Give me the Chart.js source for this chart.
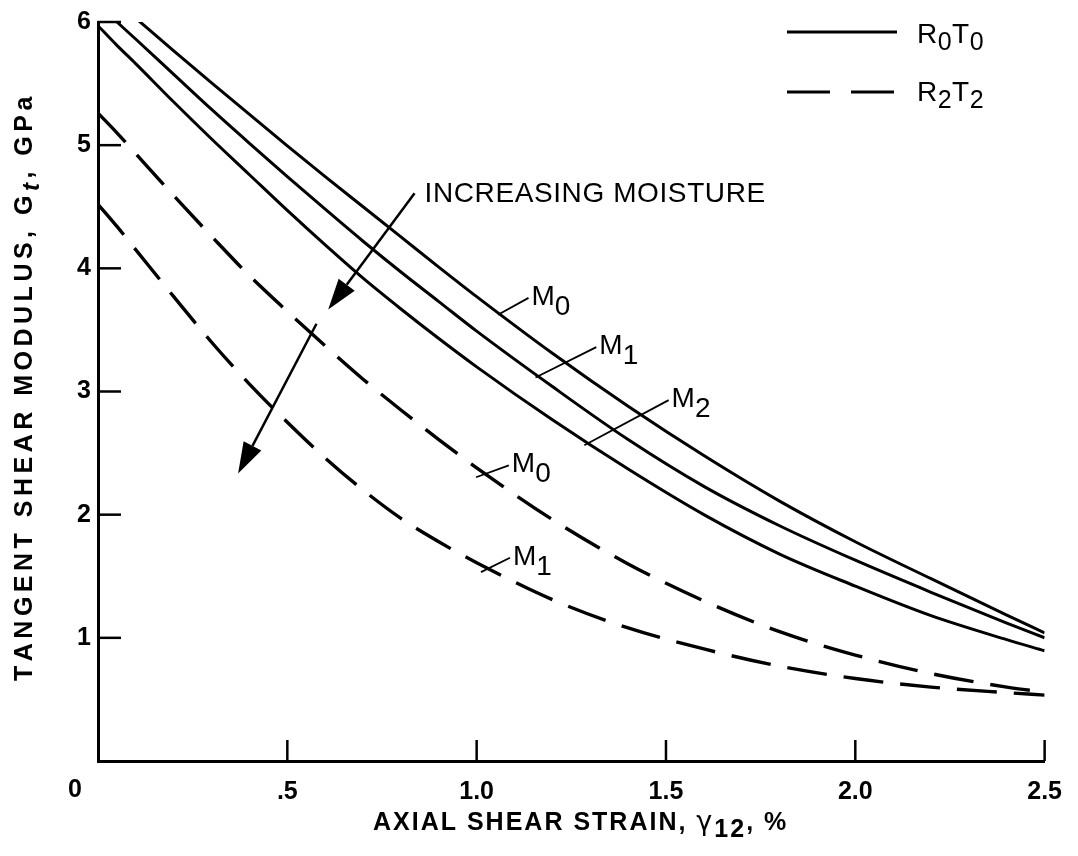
<!DOCTYPE html>
<html>
<head>
<meta charset="utf-8">
<script src="https://cdn.jsdelivr.net/npm/chart.js@4.4.1/dist/chart.umd.min.js"></script>
<style>
  html, body { margin: 0; padding: 0; background: #fff; }
  canvas { display: block; }
</style>
</head>
<body>
<canvas id="chart" width="1078" height="856"></canvas>
<script>
// Axial shear strain, % (x values)
const strain = [0, 0.05, 0.1, 0.2, 0.3, 0.4, 0.5, 0.6, 0.7, 0.8, 0.9, 1.0, 1.2, 1.4, 1.6, 1.8, 2.0, 2.2, 2.4, 2.5];

// Tangent shear modulus, GPa - R0T0 (solid)
const dryM0 = [null, null, 6.03, 5.765, 5.505, 5.25, 4.995, 4.745, 4.50, 4.255, 4.01, 3.77, 3.31, 2.88, 2.48, 2.11, 1.78, 1.48, 1.185, 1.04];
const dryM1 = [null, 6.00, 5.86, 5.575, 5.29, 5.015, 4.745, 4.48, 4.22, 3.97, 3.73, 3.49, 3.04, 2.61, 2.23, 1.91, 1.63, 1.37, 1.12, 1.00];
const dryM2 = [5.97, 5.81, 5.66, 5.35, 5.05, 4.76, 4.47, 4.19, 3.92, 3.67, 3.43, 3.20, 2.77, 2.37, 2.00, 1.68, 1.42, 1.18, 0.985, 0.895];

// R2T2 (dashed)
const wetM0 = [5.26, 5.10, 4.93, 4.59, 4.26, 3.94, 3.65, 3.37, 3.10, 2.85, 2.61, 2.38, 1.96, 1.60, 1.30, 1.05, 0.86, 0.71, 0.60, 0.56];
const wetM1 = [4.52, 4.34, 4.15, 3.77, 3.40, 3.06, 2.75, 2.46, 2.20, 1.97, 1.78, 1.61, 1.31, 1.08, 0.91, 0.77, 0.67, 0.60, 0.555, 0.535];

// tick labels
const xTickLabels = ["0", ".5", "1.0", "1.5", "2.0", "2.5"];
const yTickLabels = ["", "1", "2", "3", "4", "5", "6"];

// curve labels: leader from the curve (x0,y0) to (x1,y1), in data units
const curveLabels = [
    { sub: "0", x0: 1.067, y0: 3.64, x1: 1.137, y1: 3.76 },
    { sub: "1", x0: 1.166, y0: 3.13, x1: 1.316, y1: 3.36 },
    { sub: "2", x0: 1.295, y0: 2.58, x1: 1.507, y1: 2.93 },
    { sub: "0", x0: 1.009, y0: 2.32, x1: 1.085, y1: 2.40 },
    { sub: "1", x0: 1.022, y0: 1.55, x1: 1.088, y1: 1.65 }
];

// "increasing moisture" arrows, data units
const arrows = [
    { x0: 0.836, y0: 4.61, x1: 0.608, y1: 3.665 },
    { x0: 0.577, y0: 3.55, x1: 0.370, y1: 2.335 }
];

const FONT = "'Liberation Sans', Arial, Helvetica, sans-serif";

function points(ys) {
    const out = [];
    strain.forEach((x, i) => {
        if (ys[i] !== null) out.push({ x: x, y: ys[i] });
    });
    return out;
}

function curve(label, ys, dashed) {
    return {
        label: label,
        data: points(ys),
        showLine: true,
        borderColor: "#000",
        borderWidth: dashed ? 3.4 : 3,
        borderDash: dashed ? [40, 17] : [],
        pointRadius: 0,
        cubicInterpolationMode: "monotone",
        fill: false
    };
}

// draws text pieces one after the other; piece.dy lowers subscripts
function drawRich(ctx, parts, x, y, spacing) {
    let cx = x;
    parts.forEach(p => {
        ctx.font = p.font;
        for (const ch of p.t) {
            ctx.fillText(ch, cx, y + (p.dy || 0));
            cx += ctx.measureText(ch).width + (spacing || 0);
        }
    });
    return cx;
}

function line(ctx, x0, y0, x1, y1) {
    ctx.beginPath();
    ctx.moveTo(x0, y0);
    ctx.lineTo(x1, y1);
    ctx.stroke();
}

function arrow(ctx, x0, y0, x1, y1) {
    const a = Math.atan2(y1 - y0, x1 - x0);
    const len = 31, half = 10;
    const bx = x1 - len * Math.cos(a), by = y1 - len * Math.sin(a);
    line(ctx, x0, y0, bx, by);
    ctx.beginPath();
    ctx.moveTo(x1, y1);
    ctx.lineTo(bx + half * Math.sin(a), by - half * Math.cos(a));
    ctx.lineTo(bx - half * Math.sin(a), by + half * Math.cos(a));
    ctx.closePath();
    ctx.fill();
}

const overlay = {
    id: "overlay",
    afterDraw(chart) {
        const { ctx, chartArea, scales } = chart;
        const sx = scales.x, sy = scales.y;
        ctx.save();
        ctx.strokeStyle = "#000";
        ctx.fillStyle = "#000";
        ctx.lineCap = "butt";

        // inward tick marks
        ctx.lineWidth = 2.5;
        sy.ticks.forEach(t => {
            if (t.value === 0) return;
            const py = sy.getPixelForValue(t.value);
            line(ctx, chartArea.left, py, chartArea.left + 23, py);
        });
        sx.ticks.forEach(t => {
            if (t.value === 0) return;
            const px = sx.getPixelForValue(t.value);
            line(ctx, px, chartArea.bottom, px, chartArea.bottom - 21);
        });

        // origin label sits left of the corner
        ctx.font = "bold 25px " + FONT;
        ctx.textAlign = "center";
        ctx.textBaseline = "middle";
        ctx.fillText(xTickLabels[0], sx.getPixelForValue(0) - 23, 790);

        ctx.textAlign = "left";
        ctx.textBaseline = "alphabetic";

        // x axis title
        const bold = "bold 25px " + FONT;
        drawRich(ctx, [
            { t: "AXIAL SHEAR STRAIN, ", font: bold },
            { t: "\u03B3", font: "27px 'DejaVu Sans', sans-serif" },
            { t: "12", font: bold, dy: 7 },
            { t: ", %", font: bold }
        ], 373, 830, 2);

        // y axis title
        ctx.save();
        ctx.translate(32, 681);
        ctx.rotate(-Math.PI / 2);
        drawRich(ctx, [
            { t: "TANGENT SHEAR MODULUS, G", font: bold },
            { t: "t", font: "italic bold 24px " + FONT, dy: 7 },
            { t: ", GPa", font: bold }
        ], 0, 0, 4.5);
        ctx.restore();

        // legend
        ctx.lineWidth = 3;
        line(ctx, 787, 32, 897, 32);
        ctx.setLineDash([43, 21]);
        line(ctx, 787, 92, 897, 92);
        ctx.setLineDash([]);
        const reg = "28px " + FONT;
        const sub = "25px " + FONT;
        drawRich(ctx, [
            { t: "R", font: reg }, { t: "0", font: sub, dy: 7 },
            { t: "T", font: reg }, { t: "0", font: sub, dy: 7 }
        ], 917, 43, 0.5);
        drawRich(ctx, [
            { t: "R", font: reg }, { t: "2", font: sub, dy: 7 },
            { t: "T", font: reg }, { t: "2", font: sub, dy: 7 }
        ], 917, 101, 0.5);

        // curve labels with leaders
        ctx.lineWidth = 1.8;
        curveLabels.forEach(c => {
            const x0 = sx.getPixelForValue(c.x0), y0 = sy.getPixelForValue(c.y0);
            const x1 = sx.getPixelForValue(c.x1), y1 = sy.getPixelForValue(c.y1);
            line(ctx, x0 - 4, y0 + 2, x1, y1);
            drawRich(ctx, [
                { t: "M", font: reg },
                { t: c.sub, font: reg, dy: 10 }
            ], x1 + 3, y1 + 7, 0);
        });

        // increasing moisture
        ctx.lineWidth = 2.5;
        arrows.forEach(a => {
            arrow(ctx, sx.getPixelForValue(a.x0), sy.getPixelForValue(a.y0),
                sx.getPixelForValue(a.x1), sy.getPixelForValue(a.y1));
        });
        drawRich(ctx, [{ t: "INCREASING MOISTURE", font: reg }],
            sx.getPixelForValue(arrows[0].x0) + 10, sy.getPixelForValue(arrows[0].y0) + 9, 0.6);

        ctx.restore();
    }
};

new Chart(document.getElementById("chart"), {
    type: "scatter",
    data: {
        datasets: [
            curve("R0T0 M0", dryM0, false),
            curve("R0T0 M1", dryM1, false),
            curve("R0T0 M2", dryM2, false),
            curve("R2T2 M0", wetM0, true),
            curve("R2T2 M1", wetM1, true)
        ]
    },
    options: {
        responsive: false,
        animation: false,
        devicePixelRatio: 1,
        layout: { padding: { top: 21, right: 26, left: 0, bottom: 0 } },
        plugins: {
            legend: { display: false },
            tooltip: { enabled: false }
        },
        scales: {
            x: {
                type: "linear",
                min: 0,
                max: 2.5,
                afterFit: s => { s.height = 95; },
                border: { display: true, color: "#000", width: 3 },
                grid: { display: true, drawOnChartArea: false, drawTicks: false },
                ticks: {
                    stepSize: 0.5,
                    autoSkip: false,
                    maxRotation: 0,
                    padding: 16,
                    color: "#000",
                    font: { family: FONT, size: 25, weight: "bold" },
                    callback: (v, i) => (i === 0 ? "" : xTickLabels[i])
                }
            },
            y: {
                type: "linear",
                min: 0,
                max: 6,
                afterFit: s => { s.width = 98; },
                border: { display: true, color: "#000", width: 3 },
                grid: { display: true, drawOnChartArea: false, drawTicks: false },
                ticks: {
                    stepSize: 1,
                    autoSkip: false,
                    padding: 7,
                    color: "#000",
                    font: { family: FONT, size: 25, weight: "bold" },
                    callback: (v, i) => yTickLabels[i]
                }
            }
        }
    },
    plugins: [overlay]
});
</script>
</body>
</html>
